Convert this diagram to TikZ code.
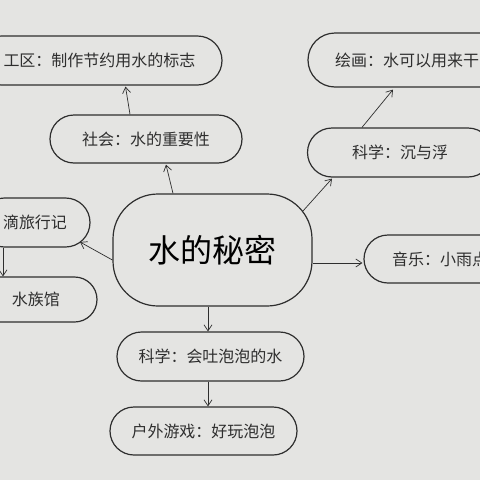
\documentclass[tikz,border=0pt]{standalone}
\usepackage{fontspec}
\newfontfamily\cjk{Noto Sans CJK SC}
\usetikzlibrary{shapes.misc,arrows.meta,calc}
\definecolor{bg}{HTML}{E4E4E2}
\definecolor{ink}{HTML}{2E2E2E}
\begin{document}
\begin{tikzpicture}[x=1pt,y=-1pt,
  box/.style={rounded rectangle, draw=ink, line width=1.2pt, inner sep=0pt,
    font=\cjk\fontsize{16}{16}\selectfont, text=ink},
  titlebox/.style={rectangle, rounded corners=45pt, draw=ink, line width=1.2pt, inner sep=0pt,
    font=\cjk\fontsize{32}{32}\selectfont, text=black},
  arr/.style={draw=ink, line width=0.7pt, -{Straight Barb[length=6pt,width=8pt]}}]
\useasboundingbox (0,0) rectangle (480,480);
\clip (0,0) rectangle (480,480);
\fill[bg] (0,0) rectangle (480,480);

\node[box, minimum width=245, minimum height=49] (gong) at (99.5,60.5) {工区：制作节约用水的标志};
\node[box, minimum width=192, minimum height=48] (soc) at (146,139) {社会：水的重要性};
\node[box, minimum width=198, minimum height=54] (paint) at (407,60) {绘画：水可以用来干};
\node[box, minimum width=185, minimum height=49] (sci1) at (400,152.5) {科学：沉与浮};
\node[titlebox, minimum width=199, minimum height=112] (mid) at (212.5,250) {水的秘密};
\node[box, minimum width=110, minimum height=49] (drop) at (35,222.5) {滴旅行记};
\node[box, minimum width=122, minimum height=45] (aqua) at (36,299.5) {水族馆};
\node[box, minimum width=152, minimum height=48] (music) at (440,259) {音乐：小雨点};
\node[box, minimum width=187, minimum height=49] (sci2) at (210.5,356.5) {科学：会吐泡泡的水};
\node[box, minimum width=187, minimum height=48] (game) at (203.5,431) {户外游戏：好玩泡泡};

\draw[arr] ($(soc.north)+(-16,0)$) -- ($(gong.south)+(26,1)$);
\draw[arr] ($(mid.north)+(-39.5,0)$) -- ($(soc.south)+(20,1)$);
\draw[arr] ($(mid.north east)+(-10,18)$) -- ($(sci1.south)+(-68,1)$);
\draw[arr] ($(sci1.north)+(-38,0)$) -- ($(paint.south)+(-14,2)$);
\draw[arr] ($(mid.east)+(0,13)$) -- ($(music.west)+(-1,4)$);
\draw[arr] ($(mid.west)+(0,10)$) -- ($(drop.center)+(45,19.5)$);
\draw[arr] ($(drop.south)+(-32,0)$) -- ($(aqua.north)+(-33,0)$);
\draw[arr] ($(mid.south)+(-4.5,0)$) -- ($(sci2.north)+(-2.5,0)$);
\draw[arr] ($(sci2.south)+(-2.5,0)$) -- ($(game.north)+(4.5,0)$);
\end{tikzpicture}
\end{document}
